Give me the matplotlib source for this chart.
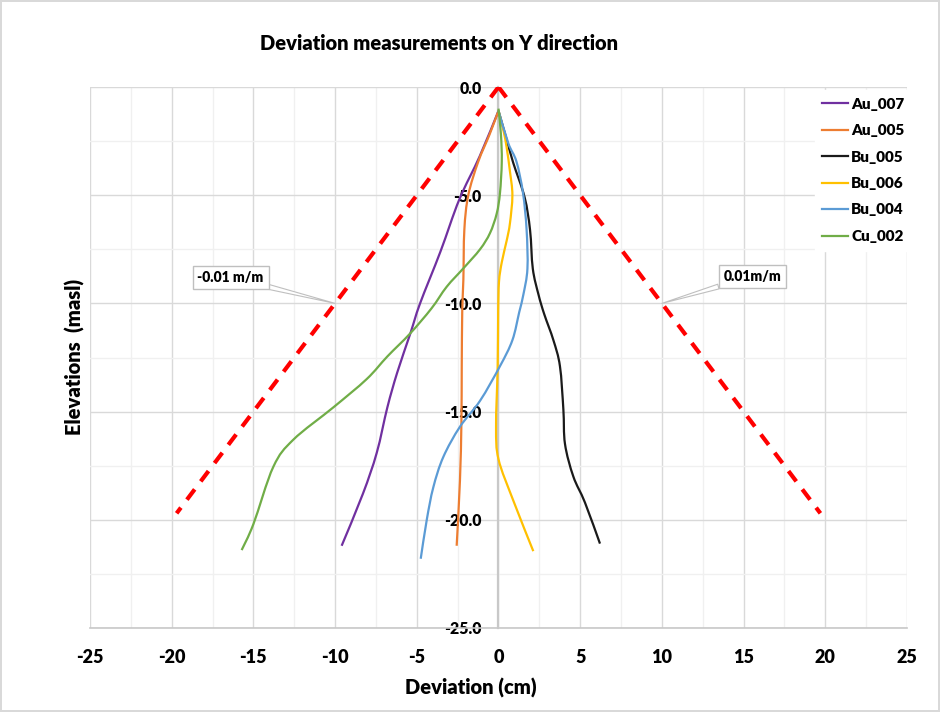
import matplotlib
matplotlib.use("Agg")
import matplotlib.pyplot as plt
from matplotlib.path import Path
from matplotlib.patches import PathPatch
from matplotlib.ticker import MultipleLocator, FormatStrFormatter
import numpy as np

plt.rcParams['font.family'] = ['Lato', 'DejaVu Sans']
plt.rcParams['axes.unicode_minus'] = False
W = 'heavy'

# ---------------- data ----------------
series_names = ["Au_007", "Au_005", "Bu_005", "Bu_006", "Bu_004", "Cu_002"]
series_colors = ["#7030A0", "#ED7D31", "#1a1a1a", "#FFC000", "#5B9BD5", "#70AD47"]

au007_x = [0, -1.15, -2.4, -3.55, -4.8, -5.4, -6.2, -6.8, -7.45, -8.3, -9.6]
au007_y = [-1.1, -3.2, -5.2, -7.6, -10.0, -11.4, -13.2, -14.8, -16.9, -18.8, -21.2]

au005_x = [0, -0.55, -1.24, -1.85, -2.09, -2.15, -2.22, -2.25, -2.27, -2.36, -2.56]
au005_y = [-1.1, -2.2, -3.45, -5.0, -6.6, -8.9, -10.4, -13.0, -15.5, -18.2, -21.2]

bu005_x = [0, 0.45, 0.9, 1.6, 1.93, 2.1, 2.45, 2.8, 3.36, 3.76, 3.97, 4.07, 4.58, 5.29, 6.21]
bu005_y = [-1.1, -2.3, -3.5, -5.1, -6.6, -8.4, -9.6, -10.5, -11.7, -12.9, -14.9, -16.5, -18.0, -19.2, -21.1]

bu006_x = [0, 0.3, 0.5, 0.7, 0.85, 0.7, 0.5, 0.2, 0.03, -0.02, -0.05, -0.15, 0.0, 0.9, 2.13]
bu006_y = [-1.1, -2.0, -2.8, -3.9, -5.0, -6.3, -7.1, -8.1, -9.0, -10.4, -12.9, -15.7, -17.2, -19.1, -21.45]

bu004_x = [0, 0.6, 1.1, 1.5, 1.72, 1.77, 1.52, 1.27, 0.85, 0.09, -1.13, -2.36, -3.38, -3.99, -4.39, -4.76]
bu004_y = [-1.1, -2.6, -3.45, -4.9, -6.6, -8.4, -9.6, -10.4, -11.7, -12.9, -14.5, -15.7, -17.1, -18.5, -20.0, -21.8]

cu002_x = [0, 0.15, 0.2, 0.09, -0.11, -0.52, -1.13, -2.15, -3.17, -4.1, -5.42, -6.8, -8.07,
           -10.1, -12.56, -13.78, -15.0, -15.72]
cu002_y = [-1.0, -2.2, -3.45, -4.9, -5.85, -6.75, -7.5, -8.38, -9.23, -10.23, -11.4, -12.45, -13.5,
           -14.8, -16.3, -17.55, -20.2, -21.4]

guide_depth = [0, -19.7]
guide_left_x = [0, -19.7]
guide_right_x = [0, 19.7]

callout_labels = ["-0.01 m/m", "0.01m/m"]
callout_points = [(-10, -10), (10, -10)]
callout_text_pos = [(-16.4, -8.8), (15.55, -8.75)]

x_ticks = [-25, -20, -15, -10, -5, 0, 5, 10, 15, 20, 25]
y_ticks = [0, -5, -10, -15, -20, -25]

series_x = [au007_x, au005_x, bu005_x, bu006_x, bu004_x, cu002_x]
series_y = [au007_y, au005_y, bu005_y, bu006_y, bu004_y, cu002_y]


def smooth_path(xs, ys):
    """Catmull-Rom style smoothing (like Excel's smoothed line) as cubic Bezier path."""
    p = np.column_stack([xs, ys]).astype(float)
    n = len(p)
    verts = [p[0]]
    codes = [Path.MOVETO]
    for i in range(n - 1):
        p0 = p[i - 1] if i > 0 else p[i]
        p1 = p[i]
        p2 = p[i + 1]
        p3 = p[i + 2] if i + 2 < n else p[i + 1]
        c1 = p1 + (p2 - p0) / 6.0
        c2 = p2 - (p3 - p1) / 6.0
        verts += [c1, c2, p2]
        codes += [Path.CURVE4, Path.CURVE4, Path.CURVE4]
    return Path(verts, codes)


fig = plt.figure(figsize=(9.4, 7.12), dpi=100)
fig.patch.set_edgecolor('#d9d9d9')
fig.patch.set_linewidth(1.5)
ax = fig.add_axes([90 / 940, 1 - 628 / 712, 817 / 940, 541 / 712])

ax.set_xlim(-25, 25)
ax.set_ylim(-25, 0)

# grid
ax.xaxis.set_minor_locator(MultipleLocator(2.5))
ax.yaxis.set_minor_locator(MultipleLocator(2.5))
ax.set_xticks(x_ticks)
ax.set_yticks(y_ticks)
ax.grid(True, which='major', color='#d9d9d9', lw=1.0, zorder=0)
ax.grid(True, which='minor', color='#f0f0f0', lw=1.0, zorder=0)
ax.set_axisbelow(True)

for s in ['top', 'right']:
    ax.spines[s].set_visible(False)
ax.spines['left'].set_position(('data', 0))
ax.spines['left'].set_color('#c8c8c8')
ax.spines['left'].set_linewidth(1.6)
ax.spines['left'].set_zorder(1)
ax.spines['bottom'].set_color('#c8c8c8')
ax.spines['bottom'].set_linewidth(1.2)

ax.yaxis.set_major_formatter(FormatStrFormatter('%.1f'))
ax.tick_params(axis='both', which='both', length=0)
ax.tick_params(axis='y', pad=12, labelsize=11.3)
ax.tick_params(axis='x', pad=15, labelsize=13)
for lab in ax.get_xticklabels() + ax.get_yticklabels():
    lab.set_fontweight(W)

# guide lines
ax.plot(guide_left_x, guide_depth, color='#ff0000', lw=3, linestyle=(0, (3.1, 2.4)),
        solid_capstyle='butt', zorder=3)
ax.plot(guide_right_x, guide_depth, color='#ff0000', lw=3, linestyle=(0, (3.1, 2.4)),
        solid_capstyle='butt', zorder=3)

# smoothed series
for name, col, xs, ys in zip(series_names, series_colors, series_x, series_y):
    patch = PathPatch(smooth_path(xs, ys), fill=False, edgecolor=col, lw=1.6, zorder=4)
    ax.add_patch(patch)
    ax.plot([], [], color=col, lw=1.6, label=name)

# callouts
for lab, pt, tp in zip(callout_labels, callout_points, callout_text_pos):
    ax.annotate(lab, xy=pt, xytext=tp, ha='center', va='center', fontsize=10,
                fontweight=W, zorder=6,
                bbox=dict(boxstyle='square,pad=0.35', fc='white', ec='#bfbfbf', lw=1),
                arrowprops=dict(arrowstyle='wedge,tail_width=0.35,shrink_factor=0.5',
                                fc='white', ec='#bfbfbf', lw=0.8, shrinkA=0, shrinkB=0))

leg = ax.legend(loc='upper right', bbox_to_anchor=(1.01, 1.0), fontsize=11,
                frameon=True, fancybox=False, framealpha=1, edgecolor='white',
                handlelength=1.7, handletextpad=0.2, labelspacing=0.88,
                borderpad=0.5, borderaxespad=0.2)
leg.set_zorder(7)
for t in leg.get_texts():
    t.set_fontweight(W)

fig.text(439 / 940, 1 - 43 / 712, "Deviation measurements on Y direction",
         ha='center', va='center', fontsize=14.5, fontweight=W)
fig.text(471 / 940, 1 - 688 / 712, "Deviation (cm)", ha='center', va='center',
         fontsize=14.5, fontweight=W)
fig.text(75 / 940, 1 - 357 / 712, "Elevations  (masl)", ha='center', va='center',
         rotation=90, fontsize=14.5, fontweight=W)

fig.savefig("out.png", dpi=100)
